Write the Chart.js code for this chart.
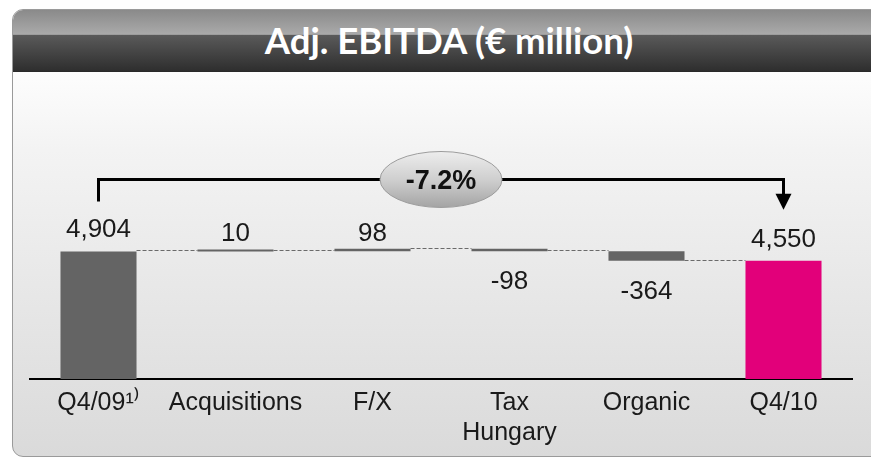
<!DOCTYPE html>
<html><head><meta charset="utf-8">
<script src="https://cdn.jsdelivr.net/npm/chart.js@4.4.1/dist/chart.umd.min.js"></script>
<style>
html,body{margin:0;padding:0;background:#fff;width:871px;height:459px;overflow:hidden;}
#frame{position:absolute;left:12px;top:9px;width:872px;height:446px;border:1.5px solid #9a9a9a;border-radius:11px;overflow:hidden;background:linear-gradient(#fdfdfd 62px,#f3f3f3 140px,#dadada 100%);}
#head{position:absolute;left:0;top:0;right:0;height:61px;border-bottom:1.5px solid #2a2a2a;background:linear-gradient(#8a8a8a 0%,#aaaaaa 40%,#5a5a5a 41%,#2e2e2e 100%);color:#fff;text-align:center;font-family:Lato,"Open Sans",sans-serif;font-weight:bold;font-size:36.5px;line-height:61px;}
canvas{position:absolute;left:0;top:0;}
</style></head>
<body>
<div id="frame"><div id="head">Adj. EBITDA (€ million)</div></div>
<canvas id="c" width="871" height="459"></canvas>
<script>
const categories = ['Q4/09\u00B9\u207E', 'Acquisitions', 'F/X', ['Tax', 'Hungary'], 'Organic', 'Q4/10'];
const values = [4904, 10, 98, -98, -364, 4550];
const isTotal = [true, false, false, false, false, true];
const valueLabels = ['4,904', '10', '98', '-98', '-364', '4,550'];
const changeLabel = '-7.2%';

let run = 0;
const ranges = values.map((v, i) => {
  if (isTotal[i]) { run = v; return [0, v]; }
  const s = run; run += v; return [s, run];
});
const colors = values.map((v, i) => i === values.length - 1 ? '#e2007a' : '#646464');

const deco = {
  id: 'deco',
  afterDatasetsDraw(chart) {
    const ctx = chart.ctx, ys = chart.scales.y;
    const bars = chart.getDatasetMeta(0).data;
    ctx.save();
    ctx.strokeStyle = '#6a6a6a'; ctx.lineWidth = 1; ctx.setLineDash([4, 2]);
    for (let i = 0; i < bars.length - 1; i++) {
      const py = Math.round(ys.getPixelForValue(ranges[i][1])) - 0.5;
      const x1 = bars[i].x + bars[i].width / 2, x2 = bars[i + 1].x - bars[i + 1].width / 2;
      ctx.beginPath(); ctx.moveTo(x1, py); ctx.lineTo(x2, py); ctx.stroke();
    }
    ctx.restore();
    ctx.save();
    ctx.fillStyle = '#1a1a1a';
    ctx.font = '26px "Liberation Sans", Arial, sans-serif';
    ctx.textAlign = 'center'; ctx.textBaseline = 'alphabetic';
    bars.forEach((b, i) => {
      const top = Math.min(b.y, b.base), bot = Math.max(b.y, b.base);
      let y;
      if (values[i] >= 0) y = top - (isTotal[i] ? 14 : 8);
      else y = bot + 38;
      ctx.fillText(valueLabels[i], b.x, y);
    });
    ctx.restore();
    const x0 = bars[0].x, x5 = bars[bars.length - 1].x;
    const t0 = Math.min(bars[0].y, bars[0].base), t5 = Math.min(bars[bars.length - 1].y, bars[bars.length - 1].base);
    const hy = t0 - 72;
    ctx.save();
    ctx.strokeStyle = '#000'; ctx.lineWidth = 3; ctx.lineJoin = 'miter'; ctx.lineCap = 'butt';
    ctx.beginPath();
    ctx.moveTo(x0, t0 - 50); ctx.lineTo(x0, hy); ctx.lineTo(x5, hy); ctx.lineTo(x5, t5 - 66);
    ctx.stroke();
    ctx.fillStyle = '#000';
    ctx.beginPath();
    ctx.moveTo(x5 - 8, t5 - 67); ctx.lineTo(x5 + 8, t5 - 67); ctx.lineTo(x5, t5 - 51); ctx.closePath();
    ctx.fill();
    const cx = (x0 + x5) / 2;
    const g = ctx.createLinearGradient(0, hy - 28, 0, hy + 28);
    g.addColorStop(0, '#ededed'); g.addColorStop(0.5, '#cfcfcf'); g.addColorStop(1, '#a4a4a4');
    ctx.beginPath(); ctx.ellipse(cx, hy, 61, 28, 0, 0, Math.PI * 2);
    ctx.fillStyle = g; ctx.fill();
    ctx.lineWidth = 1; ctx.strokeStyle = '#9c9c9c'; ctx.stroke();
    ctx.fillStyle = '#111';
    ctx.font = 'bold 27px "Liberation Sans", Arial, sans-serif';
    ctx.textAlign = 'center'; ctx.textBaseline = 'middle';
    ctx.fillText(changeLabel, cx, hy + 2);
    ctx.restore();
  }
};

new Chart(document.getElementById('c'), {
  type: 'bar',
  data: { labels: categories, datasets: [{ data: ranges, backgroundColor: colors, borderWidth: 0, barPercentage: 0.555, categoryPercentage: 1, minBarLength: 2 }] },
  options: {
    responsive: false, animation: false, events: [],
    layout: { padding: { left: 30, right: 19, top: 119, bottom: 2 } },
    plugins: { legend: { display: false }, tooltip: { enabled: false } },
    scales: {
      x: {
        grid: { display: false, drawTicks: false },
        border: { display: true, color: '#000', width: 2 },
        ticks: { color: '#1a1a1a', font: { family: '"Liberation Sans", Arial, sans-serif', size: 25, lineHeight: 1.2 }, padding: 9, maxRotation: 0, minRotation: 0, autoSkip: false }
      },
      y: { display: false, min: 0, max: 10000 }
    }
  },
  plugins: [deco]
});
</script>
</body></html>
